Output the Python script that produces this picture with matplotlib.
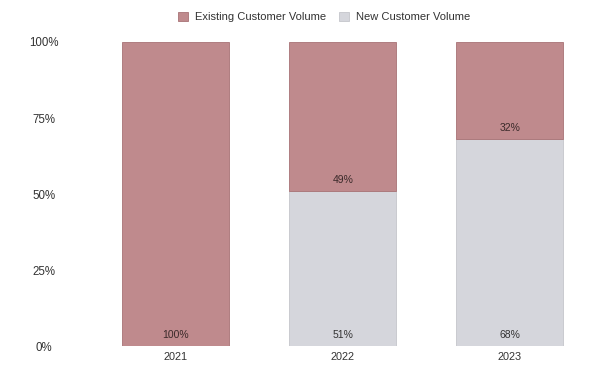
import numpy as np
import matplotlib.pyplot as plt

plt.rcParams['font.family'] = ['Liberation Sans', 'DejaVu Sans']

years = ['2021', '2022', '2023']
existing = [100, 49, 32]
new = [0, 51, 68]
existing_labels = ['100%', '49%', '32%']
new_labels = ['', '51%', '68%']

c_exist = '#bf8a8d'
c_new = '#d5d6dc'

fig = plt.figure(figsize=(6, 3.75), dpi=100)
ax = fig.add_axes([0.154, 0.077, 0.835, 0.811])

x = np.arange(len(years))
w = 0.64
ax.bar(x, new, w, color=c_new, edgecolor='#c4c5cb', linewidth=0.6,
       label='New Customer Volume')
ax.bar(x, existing, w, bottom=new, color=c_exist, edgecolor='#a87275',
       linewidth=0.6, label='Existing Customer Volume')

for i in range(len(years)):
    if new_labels[i]:
        ax.text(x[i], 2, new_labels[i], ha='center', va='bottom',
                fontsize=7.5, color='#333333')
    ax.text(x[i], new[i] + 2, existing_labels[i], ha='center', va='bottom',
            fontsize=7.5, color='#3a2a2a')

ax.set_xlim(-0.5, 2.5)
ax.set_ylim(0, 100)
ax.set_xticks(x)
ax.set_xticklabels(years)
ax.set_yticks([0, 25, 50, 75, 100])
ax.set_yticklabels(['0%', '25%', '50%', '75%', '100%'])
ax.tick_params(axis='x', length=0, pad=4, labelsize=7.8, labelcolor='#333333')
ax.tick_params(axis='y', length=0, pad=35, labelsize=8.3, labelcolor='#333333')
for lab in ax.get_yticklabels():
    lab.set_horizontalalignment('center')
for s in ax.spines.values():
    s.set_visible(False)

h, l = ax.get_legend_handles_labels()
fig.legend(h[::-1], l[::-1], loc='center', bbox_to_anchor=(0.54, 0.955), ncol=2,
           frameon=False, fontsize=8, handlelength=0.9, handleheight=0.9,
           columnspacing=1.2, handletextpad=0.6, labelcolor='#333333')

fig.savefig('out.png', dpi=100)
